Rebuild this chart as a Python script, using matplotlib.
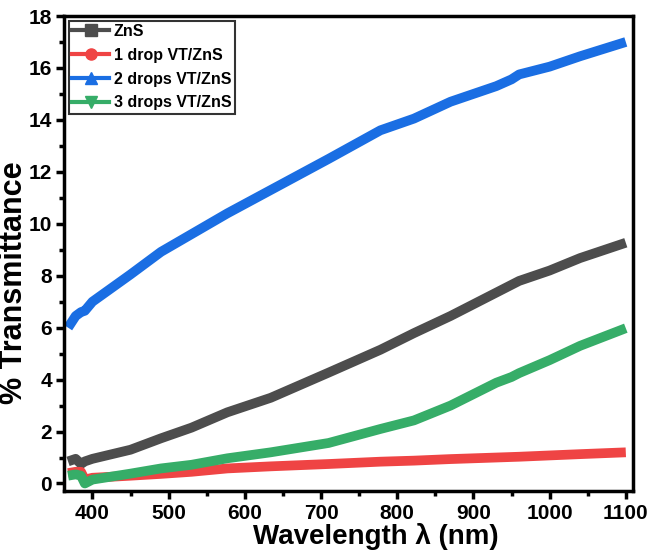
import matplotlib.pyplot as plt
from matplotlib.lines import Line2D
import numpy as np

plt.rcParams['font.family'] = ['Liberation Sans', 'DejaVu Sans']
plt.rcParams['font.weight'] = 'bold'

# wavelength grid (nm)
wl = [368, 378, 385, 390, 400, 450, 490, 530, 577, 634, 710, 778, 822, 870,
      930, 950, 960, 1000, 1040, 1100]

zns = [0.85, 0.95, 0.75, 0.85, 0.95, 1.3, 1.74, 2.15, 2.74, 3.3, 4.27, 5.15, 5.79, 6.45,
       7.35, 7.65, 7.8, 8.2, 8.68, 9.27]
drop1 = [0.4, 0.45, 0.45, 0.15, 0.22, 0.3, 0.37, 0.45, 0.58, 0.66, 0.75, 0.84, 0.88, 0.94,
         1.0, 1.02, 1.03, 1.08, 1.13, 1.2]
drop2 = [6.0, 6.45, 6.6, 6.65, 7.0, 8.05, 8.92, 9.6, 10.4, 11.3, 12.5, 13.6, 14.05, 14.7,
         15.3, 15.56, 15.75, 16.05, 16.45, 17.0]
drop3 = [0.3, 0.35, 0.3, 0.0, 0.15, 0.38, 0.58, 0.72, 0.97, 1.2, 1.56, 2.1, 2.43, 3.0,
         3.88, 4.1, 4.25, 4.75, 5.3, 5.98]

names = ['ZnS', '1 drop VT/ZnS', '2 drops VT/ZnS', '3 drops VT/ZnS']
colors = ['#4d4d4d', '#ef4444', '#1a6ee3', '#36ad68']
markers = ['s', 'o', '^', 'v']

fig = plt.figure(figsize=(6.49, 5.52), dpi=100)
ax = fig.add_axes([0.099, 0.11, 0.877, 0.861])

for y, c in zip([zns, drop1, drop2, drop3], colors):
    ax.plot(wl, y, color=c, lw=7, solid_capstyle='butt', solid_joinstyle='round')

ax.set_xlim(363, 1110)
ax.set_ylim(-0.3, 18)
ax.set_xticks(np.arange(400, 1101, 100))
ax.set_yticks(np.arange(0, 19, 2))
ax.set_xticks(np.arange(450, 1101, 100), minor=True)
ax.set_yticks(np.arange(1, 18, 2), minor=True)

for s in ax.spines.values():
    s.set_linewidth(2.5)
ax.tick_params(which='major', direction='out', length=6, width=2.5, labelsize=15, pad=3)
ax.tick_params(which='minor', direction='out', length=3.5, width=2.5)
for lab in ax.get_xticklabels() + ax.get_yticklabels():
    lab.set_fontweight('bold')

ax.set_xlabel('Wavelength λ (nm)', fontsize=20, fontweight='bold')
ax.set_ylabel('% Transmittance', fontsize=22, fontweight='bold')
ax.xaxis.set_label_coords(0.548, -0.066)
ax.yaxis.set_label_coords(-0.062, 0.438)

handles = [Line2D([], [], color=c, marker=m, lw=3, markersize=8)
           for c, m in zip(colors, markers)]
leg = ax.legend(handles, names, loc='upper left', frameon=True,
                fancybox=False, edgecolor='black', borderpad=0.2, labelspacing=0.55,
                handlelength=2.3, handletextpad=0.3, borderaxespad=0.3,
                prop={'weight': 'bold', 'size': 11.5})
leg.get_frame().set_linewidth(1.5)

fig.savefig('out.png', dpi=100)
